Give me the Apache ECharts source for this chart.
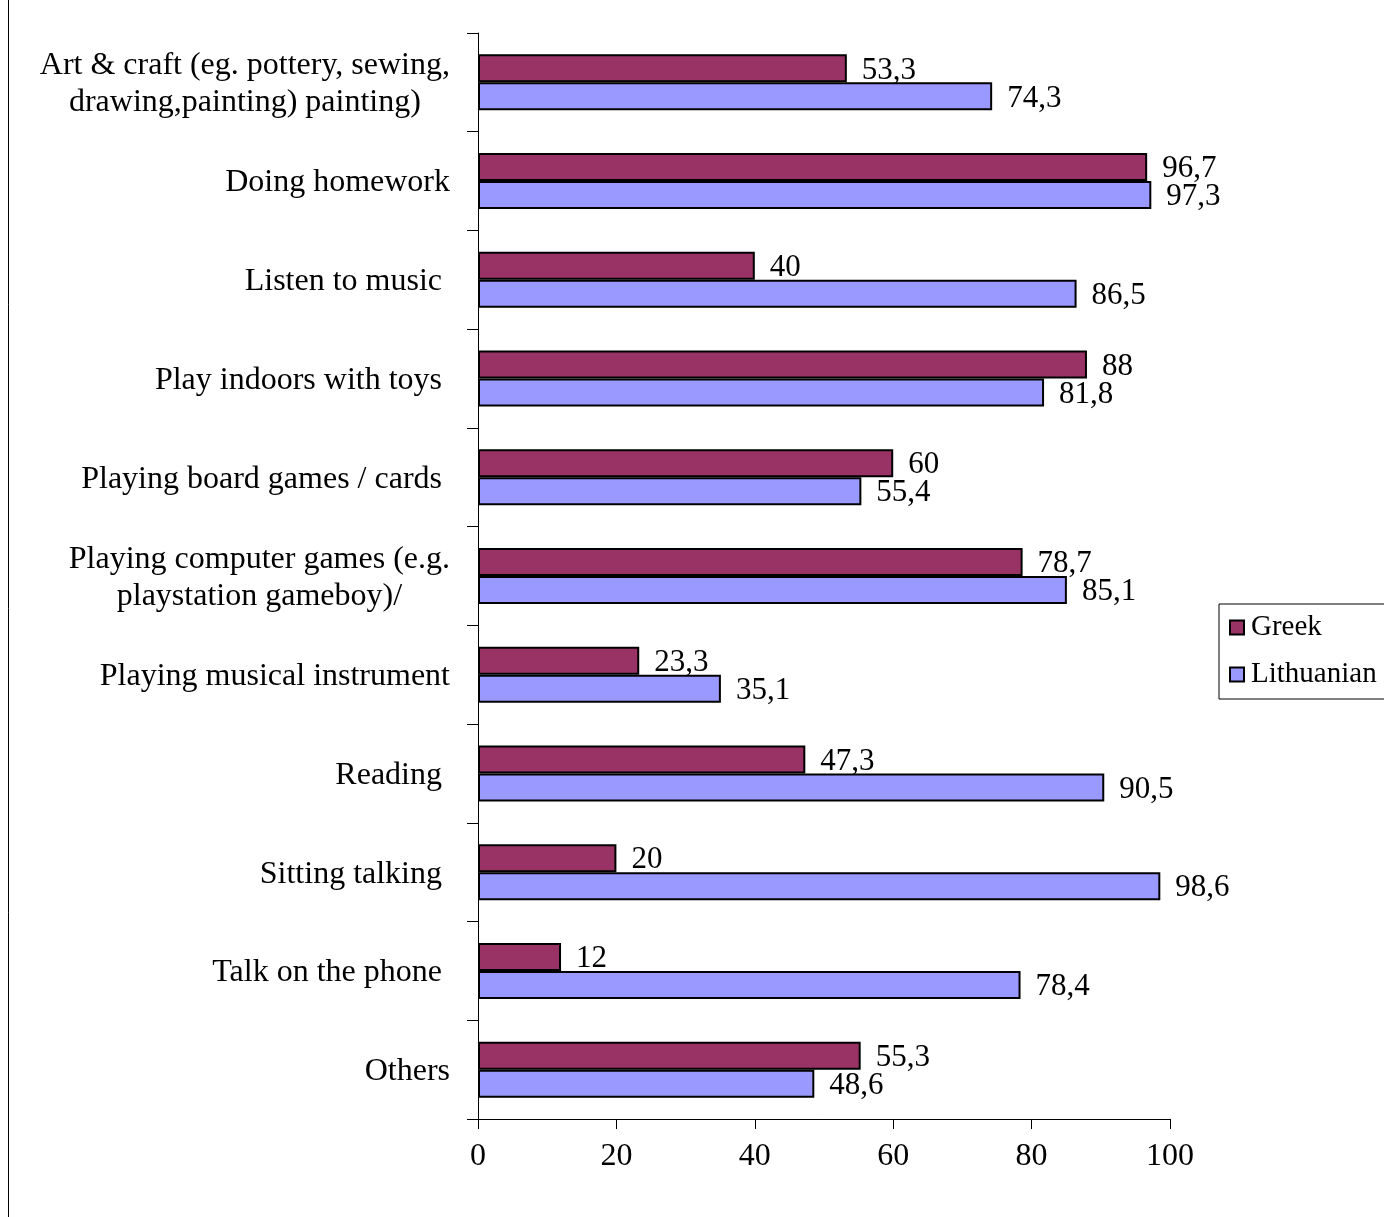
<!DOCTYPE html>
<html>
<head>
<meta charset="utf-8">
<script src="https://cdn.jsdelivr.net/npm/echarts@6/dist/echarts.min.js"></script>
<style>
html,body{margin:0;padding:0;background:#fff;}
#chart{width:1384px;height:1217px;}
</style>
</head>
<body>
<div id="chart"></div>
<script>
const categories = [
  "Art & craft (eg. pottery, sewing,\ndrawing,painting) painting)",
  "Doing homework",
  "Listen to music ",
  "Play indoors with toys ",
  "Playing board games / cards ",
  "Playing computer games (e.g.\nplaystation gameboy)/",
  "Playing musical instrument",
  "Reading ",
  "Sitting talking ",
  "Talk on the phone ",
  "Others"
];
const greek = [53.3, 96.7, 40, 88, 60, 78.7, 23.3, 47.3, 20, 12, 55.3];
const lithuanian = [74.3, 97.3, 86.5, 81.8, 55.4, 85.1, 35.1, 90.5, 98.6, 78.4, 48.6];
const xTicks = { min: 0, max: 100, interval: 20 };

const font = "'Liberation Serif', 'Times New Roman', serif";
const chart = echarts.init(document.getElementById('chart'), null, { renderer: 'canvas' });

const labelStyle = {
  show: true,
  position: 'right',
  distance: 15,
  offset: [0, 2],
  color: '#000',
  fontFamily: font,
  fontSize: 31,
  formatter: p => String(p.value).replace('.', ',')
};

chart.setOption({
  animation: false,
  backgroundColor: '#fff',
  textStyle: { fontFamily: font },
  grid: { left: 478, right: 214, top: 33, bottom: 98, containLabel: false },
  legend: {
    orient: 'vertical',
    left: 1219,
    top: 604,
    width: 200,
    padding: [9, 30, 10, 10],
    itemGap: 18,
    itemWidth: 14,
    itemHeight: 14,
    icon: 'rect',
    borderColor: '#000',
    borderWidth: 1,
    textStyle: { fontFamily: font, fontSize: 29, color: '#000', padding: [2, 0, 0, 2] },
    data: ['Greek', 'Lithuanian']
  },
  xAxis: {
    type: 'value',
    min: xTicks.min, max: xTicks.max, interval: xTicks.interval,
    axisLine: { show: true, lineStyle: { color: '#000', width: 1 } },
    axisTick: { show: true, length: 10, lineStyle: { color: '#000' } },
    splitLine: { show: false },
    axisLabel: { color: '#000', fontFamily: font, fontSize: 32, margin: 22 }
  },
  yAxis: {
    type: 'category',
    inverse: true,
    data: categories,
    axisLine: { show: true, lineStyle: { color: '#000', width: 1 } },
    axisTick: { show: true, length: 11, lineStyle: { color: '#000' } },
    axisLabel: {
      color: '#000',
      fontFamily: font,
      fontSize: 32,
      margin: 28,
      lineHeight: 37,
      formatter: v => v.split('\n').map(l => '{c|' + l + '}').join('\n'),
      rich: { c: { align: 'center', fontFamily: font, fontSize: 32, lineHeight: 37, color: '#000', padding: [4, 0, 0, 0] } }
    }
  },
  series: [
    {
      name: 'Greek',
      type: 'bar',
      data: greek,
      barWidth: 28,
      barGap: '0%',
      itemStyle: { color: '#993366', borderColor: '#000', borderWidth: 2 },
      label: labelStyle
    },
    {
      name: 'Lithuanian',
      type: 'bar',
      data: lithuanian,
      barWidth: 28,
      barGap: '0%',
      itemStyle: { color: '#9999FF', borderColor: '#000', borderWidth: 2 },
      label: labelStyle
    }
  ],
  graphic: [
    { type: 'line', shape: { x1: 8.5, y1: 0, x2: 8.5, y2: 1217 }, style: { stroke: '#000', lineWidth: 1 } }
  ]
});
</script>
</body>
</html>
